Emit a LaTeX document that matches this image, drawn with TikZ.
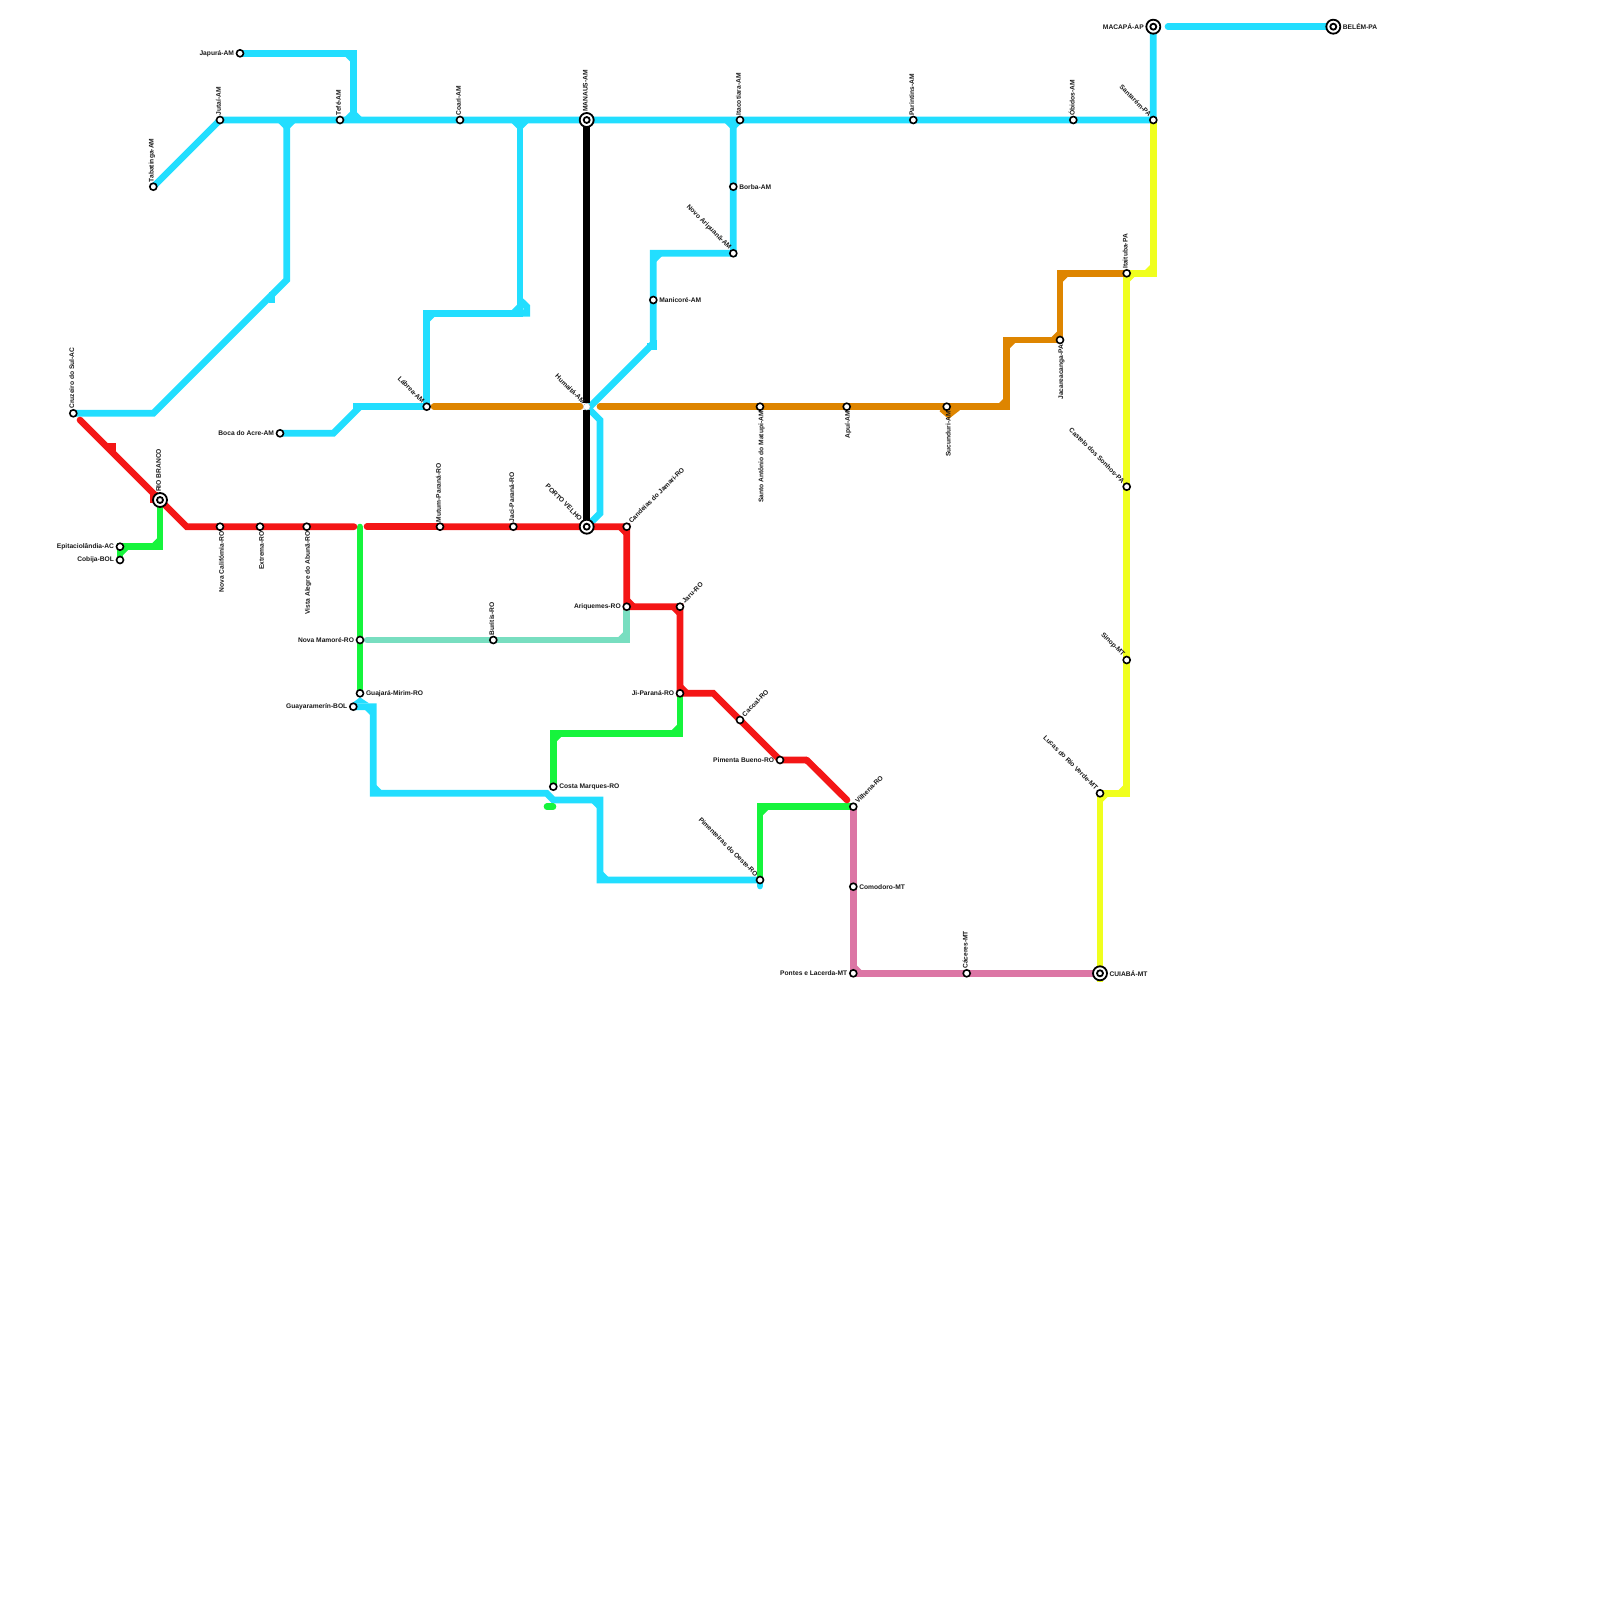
\documentclass[tikz,border=0pt]{standalone}
\usepackage{fontspec}
\setmainfont{Liberation Sans}
\usetikzlibrary{backgrounds}
\definecolor{cyanbg}{RGB}{34,222,255}
\definecolor{redbg}{RGB}{244,22,22}
\definecolor{greenbg}{RGB}{22,244,60}
\definecolor{orangebg}{RGB}{222,133,0}
\definecolor{yellowbg}{RGB}{240,255,30}
\definecolor{pinkbg}{RGB}{220,118,165}
\definecolor{tealbg}{RGB}{120,222,192}
\tikzset{
    stn/.style={draw, circle, fill=white, line width=1.6pt, minimum size=7pt, inner sep=0pt},
    hub/.style={draw, circle, fill=white, line width=1.8pt, minimum size=14pt, inner sep=0pt,
        path picture={\draw[line width=1.8pt] (path picture bounding box.center) circle (3pt);}},
    lbl/.style={font=\fontsize{6.67}{8}\selectfont\bfseries, inner sep=0pt, text=black!90},
    lab n/.style={label={[lbl, rotate=90, anchor=west]90:#1}},
    lab s/.style={label={[lbl, rotate=90, anchor=east]-90:#1}},
    lab e/.style={label={[lbl, anchor=west]0:#1}},
    lab w/.style={label={[lbl, anchor=east]180:#1}},
    lab ne/.style={label={[lbl, rotate=45, anchor=west]45:#1}},
    lab nw/.style={label={[lbl, rotate=-45, anchor=east]135:#1}},
    ln/.style={line width=6.67pt, line join=miter},
    lnc/.style={ln, cyanbg},
    lnr/.style={ln, redbg},
    lng/.style={ln, greenbg},
    lno/.style={ln, orangebg},
    lny/.style={ln, yellowbg},
    lnp/.style={ln, pinkbg},
    lnt/.style={ln, tealbg},
}
\newcommand{\knee}[4]{\draw[#1] (#2.center) +(#3,0) -- +(0,#4);}

\begin{document}
\begin{tikzpicture}[x=1pt, y=-1pt, label distance=1.5pt]
    \useasboundingbox (0,0) rectangle (1600,1600);

    \node[stn, lab w={Japurá-AM}] (japura) at (240,53.3) {};
    \node[stn, lab n={Jutaí-AM}] (jutai) at (220,120) {};
    \node[stn, lab n={Tabatinga-AM}] (tabatinga) at (153.3,186.7) {};
    \node[stn, lab n={Tefé-AM}] (tefe) at (340,120) {};
    \node[stn, lab n={Coari-AM}] (coari) at (460,120) {};
    \node[stn, lab n={Cruzeiro do Sul-AC}] (cruzeiro) at (73.3,413.3) {};
    \node[stn, lab w={Boca do Acre-AM}] (boca) at (280,433.3) {};
    \node[stn, lab nw={Lábrea-AM}] (labrea) at (426.7,406.7) {};
    \node[hub, lab n={RIO BRANCO}] (riobranco) at (160,500) {};
    \node[hub, lab n={MANAUS-AM}] (manaus) at (586.7,120) {};
    \node[stn, lab n={Itacotiara-AM}] (itacoatiara) at (740,120) {};
    \node[stn, lab n={Parintins-AM}] (parintins) at (913.3,120) {};
    \node[stn, lab e={Borba-AM}] (borba) at (733.3,186.7) {};
    \node[stn, lab nw={Novo Aripuanã-AM}] (aripuana) at (733.3,253.3) {};
    \node[stn, lab e={Manicoré-AM}] (manicore) at (653.3,300) {};
    \node[circle, fill=white, draw=black!40, line width=0.3pt, minimum size=6.8pt, inner sep=0pt, lab nw={Humaitá-AM}] (humaita) at (586.7,406.7) {};
    \node[stn, lab s={Santo Antônio do Matupi-AM}] (matupi) at (760,406.7) {};
    \node[stn, lab s={Apuí-AM}] (apui) at (846.7,406.7) {};
    \node[stn, lab s={Sucunduri-AM}] (sucunduri) at (946.7,406.7) {};
    \node[hub, lab nw={PORTO VELHO}] (portovelho) at (586.7,526.7) {};
    \node[stn, lab n={Jaci-Paraná-RO}] (jaci) at (513.3,526.7) {};
    \node[stn, lab ne={Candeias do Jamari-RO}] (candeias) at (626.7,526.7) {};
    \node[hub, lab w={MACAPÁ-AP}] (macapa) at (1153.3,26.7) {};
    \node[hub, lab e={BELÉM-PA}] (belem) at (1333.3,26.7) {};
    \node[stn, lab n={Óbidos-AM}] (obidos) at (1073.3,120) {};
    \node[stn, lab nw={Santarém-PA}] (santarem) at (1153.3,120) {};
    \node[stn, lab n={Itaituba-PA}] (itaituba) at (1126.7,273.3) {};
    \node[stn, lab s={Jacareacanga-PA}] (jacare) at (1060,340) {};
    \node[stn, lab nw={Castelo dos Sonhos-PA}] (castelo) at (1126.7,486.7) {};
    \node[stn, lab nw={Sinop-MT}] (sinop) at (1126.7,660) {};
    \node[stn, lab w={Epitaciolândia-AC}] (epitacio) at (120,546.7) {};
    \node[stn, lab w={Cobija-BOL}] (cobija) at (120,560) {};
    \node[stn, lab s={Nova Califórnia-RO}] (california) at (220,526.7) {};
    \node[stn, lab s={Extrema-RO}] (extrema) at (260,526.7) {};
    \node[stn, lab s={Vista Alegre do Abunã-RO}] (abuna) at (306.7,526.7) {};
    \node[stn, lab n={Mutum-Paraná-RO}] (mutum) at (440,526.7) {};
    \node[stn, lab w={Nova Mamoré-RO}] (mamore) at (360,640) {};
    \node[stn, lab n={Buritis-RO}] (buritis) at (493.3,640) {};
    \node[stn, lab e={Guajará-Mirim-RO}] (guajara) at (360,693.3) {};
    \node[stn, lab w={Guayaramerín-BOL}] (guayara) at (353.3,706.7) {};
    \node[stn, lab e={Costa Marques-RO}] (costa) at (553.3,786.7) {};
    \node[stn, lab w={Ariquemes-RO}] (ariquemes) at (626.7,606.7) {};
    \node[stn, lab ne={Jaru-RO}] (jaru) at (680,606.7) {};
    \node[stn, lab w={Ji-Paraná-RO}] (jiparana) at (680,693.3) {};
    \node[stn, lab ne={Cacoal-RO}] (cacoal) at (740,720) {};
    \node[stn, lab w={Pimenta Bueno-RO}] (pimenta) at (780,760) {};
    \node[stn, lab ne={Vilhena-RO}] (vilhena) at (853.3,806.7) {};
    \node[stn, lab nw={Pimenteiras do Oeste-RO}] (pimenteiras) at (760,880) {};
    \node[stn, lab e={Comodoro-MT}] (comodoro) at (853.3,886.7) {};
    \node[stn, lab w={Pontes e Lacerda-MT}] (pontes) at (853.3,973.3) {};
    \node[stn, lab n={Cáceres-MT}] (caceres) at (966.7,973.3) {};
    \node[hub, lab e={CUIABÁ-MT}] (cuiaba) at (1100,973.3) {};
    \node[stn, lab nw={Lucas do Rio Verde-MT}] (lucas) at (1100,793.3) {};

    \coordinate (c1) at (353.3,53.3);
    \coordinate (c2) at (353.3,120);
    \coordinate (c3) at (286.7,120);
    \coordinate (c4) at (286.7,280);
    \coordinate (c5) at (153.3,413.3);
    \coordinate (c6) at (520,120);
    \coordinate (c7) at (520,313.3);
    \coordinate (c8) at (426.7,313.3);
    \coordinate (c9) at (333.3,433.3);
    \coordinate (c10) at (360,406.7);
    \coordinate (c11) at (353.3,406.7);
    \coordinate (c12) at (733.3,120);
    \coordinate (c13) at (653.3,253.3);
    \coordinate (c14) at (653.3,343.3);
    \coordinate (c15) at (590,406.7);
    \coordinate (c16) at (600,420);
    \coordinate (c17) at (600,513.3);
    \coordinate (c18) at (1168,26.7);
    \coordinate (c19) at (373.3,706.7);
    \coordinate (c20) at (373.3,793.3);
    \coordinate (c21) at (546.7,793.3);
    \coordinate (c22) at (553.3,800);
    \coordinate (c23) at (600,800);
    \coordinate (c24) at (600,880);
    \coordinate (c25) at (760,886);
    \coordinate (r1) at (80,420);
    \coordinate (r2) at (186.7,526.7);
    \coordinate (r3) at (354,526.7);
    \coordinate (r4) at (367,526.7);
    \coordinate (r5) at (713.3,693.3);
    \coordinate (r6) at (806.7,760);
    \coordinate (r7) at (847,800);
    \coordinate (r8) at (111.7,446.7);
    \coordinate (g1) at (160,546.7);
    \coordinate (g2) at (360,527);
    \coordinate (g3) at (680,733.3);
    \coordinate (g4) at (553.3,733.3);
    \coordinate (g5) at (760,806.7);
    \coordinate (g6) at (547,806.7);
    \coordinate (g7) at (553,806.7);
    \coordinate (t1) at (367,640);
    \coordinate (t2) at (626.7,640);
    \coordinate (o1) at (434,406.7);
    \coordinate (o2) at (580,406.7);
    \coordinate (o3) at (600,406.7);
    \coordinate (o4) at (1006.7,406.7);
    \coordinate (o5) at (1006.7,340);
    \coordinate (o6) at (1060,273.3);
    \coordinate (y1) at (1153.3,273.3);
    \coordinate (y2) at (1126.7,793.3);
    \coordinate (y3) at (1100,982);

    \begin{scope}[on background layer]
        \draw[lnc] (tabatinga.center) -- (jutai.center) -- (tefe.center) -- (coari.center) -- (manaus.center) -- (itacoatiara.center) -- (parintins.center) -- (obidos.center) -- (santarem.center) -- (macapa.center);
        \draw[lnc, line cap=round] (c18) -- (belem.center);
        \draw[lnc] (japura.center) -- (c1) -- (c2);
        \draw[lnc] (c3) -- (c4) -- (c5) -- (cruzeiro.center);
        \draw[lnc] (c6) -- (c7) -- (c8) -- (labrea.center);
        \draw[lnc] (boca.center) -- (c9) -- (c10);
        \draw[lnc] (c11) -- (labrea.center);
        \draw[lnc] (c12) -- (borba.center) -- (aripuana.center) -- (c13) -- (manicore.center) -- (c14) -- (c15);
        \draw[lnc] (humaita.center) -- (c16) -- (c17) -- (portovelho.center);
        \draw[lnc] (guayara.center) -- (c19) -- (c20) -- (c21) -- (c22) -- (c23) -- (c24) -- (pimenteiras.center);
        \draw[lnc, line cap=round] (pimenteiras.center) -- (c25);
        \knee{lnc}{c1}{-6.7}{6.7}
        \knee{lnc}{c2}{-6.7}{-6.7}
        \knee{lnc}{c2}{6.7}{-6.7}
        \knee{lnc}{c3}{-6.7}{6.7}
        \knee{lnc}{c3}{6.7}{6.7}
        \knee{lnc}{c6}{-6.7}{6.7}
        \knee{lnc}{c6}{6.7}{6.7}
        \knee{lnc}{c7}{-6.7}{-6.7}
        \draw[lnc] (c7.center) +(0,-13.3) -- +(6.7,-6.7) -- +(6.7,0) -- +(-3,0);
        \knee{lnc}{c8}{6.7}{6.7}
        \knee{lnc}{c12}{-6.7}{6.7}
        \knee{lnc}{c12}{6.7}{6.7}
        \knee{lnc}{c13}{6.7}{6.7}
        \draw[lnc] (c14.center) +(0,-3) -- +(0,3) -- +(-6,3);
        \draw[lnc] (c4.center) ++(-14.7,14.7) +(0,-3) -- +(0,8);
        \knee{lnc}{c19}{-6.7}{6.7}
        \draw[lnc] (c20.center) +(0,-6.7) -- +(6.7,0);
        \knee{lnc}{c23}{-6.7}{6.7}
        \draw[lnc] (c24.center) +(0,-6.7) -- +(6.7,0);
        \fill[cyanbg] (guajara.center) +(0,4) -- +(9,10) -- +(-8,10) -- cycle;

        \draw[lny] (santarem.center) -- (y1) -- (itaituba.center) -- (castelo.center) -- (sinop.center) -- (y2) -- (lucas.center) -- (y3);
        \knee{lny}{y1}{-6.7}{-6.7}
        \knee{lny}{itaituba}{6.7}{6.7}
        \knee{lny}{y2}{-6.7}{-6.7}
        \knee{lny}{lucas}{6.7}{6.7}

        \draw[lnp] (vilhena.center) -- (comodoro.center) -- (pontes.center) -- (caceres.center) -- (cuiaba.center);
        \knee{lnp}{pontes}{6.7}{-6.7}

        \draw[lno, line cap=round] (o1) -- (o2);
        \draw[lno, line cap=round] (o3) -- (matupi.center);
        \draw[lno] (matupi.center) -- (apui.center) -- (sucunduri.center) -- (o4) -- (o5) -- (jacare.center) -- (o6) -- (itaituba.center);
        \knee{lno}{o4}{-6.7}{-6.7}
        \knee{lno}{o5}{6.7}{6.7}
        \knee{lno}{jacare}{-6.7}{-6.7}
        \knee{lno}{o6}{6.7}{6.7}
        \draw[lno] (sucunduri.center) +(-5,2) -- +(2,8) -- +(11,1);

        \draw[lnt, line cap=round] (t1) -- (buritis.center);
        \draw[lnt] (buritis.center) -- (t2) -- (ariquemes.center);
        \knee{lnt}{t2}{-6.7}{-6.7}

        \draw[lng] (riobranco.center) -- (g1) -- (epitacio.center) -- (cobija.center);
        \draw[lng] (g1.center) +(0,-6.7) -- +(-6.7,0);
        \knee{lng}{epitacio}{6.7}{6.7}
        \draw[lng, line cap=round] (g2) -- (mamore.center);
        \draw[lng] (mamore.center) -- (guajara.center);
        \draw[lng] (jiparana.center) -- (g3) -- (g4) -- (costa.center);
        \draw[lng] (g3.center) +(0,-6.7) -- +(-6.7,0);
        \knee{lng}{g4}{6.7}{6.7}
        \draw[lng] (vilhena.center) -- (g5) -- (pimenteiras.center);
        \knee{lng}{g5}{6.7}{6.7}
        \draw[lng, line cap=round] (g6) -- (g7);

        \draw[lnr, line cap=round] (r1) -- (r2) -- (r3);
        \draw[lnr, line cap=round] (r4) -- (mutum.center);
        \draw[lnr] (mutum.center) -- (jaci.center) -- (portovelho.center) -- (candeias.center) -- (ariquemes.center) -- (jaru.center) -- (jiparana.center) -- (r5) -- (cacoal.center) -- (pimenta.center) -- (r6);
        \draw[lnr, line cap=round] (r6) -- (r7);
        \knee{lnr}{candeias}{-6.7}{6.7}
        \knee{lnr}{ariquemes}{6.7}{-6.7}
        \knee{lnr}{jaru}{-6.7}{6.7}
        \knee{lnr}{jiparana}{6.7}{-6.7}
        \draw[lnr] (r8.center) +(-5,0) -- +(1,0) -- +(1,6);
        \draw[lnr] (riobranco.center) +(-2,-5) -- +(-6.7,-5) -- +(-6.7,3);

        \draw[ln, black] (manaus.center) -- (humaita);
        \draw[ln, black] (humaita) -- (portovelho.center);
    \end{scope}
\end{tikzpicture}
\end{document}
